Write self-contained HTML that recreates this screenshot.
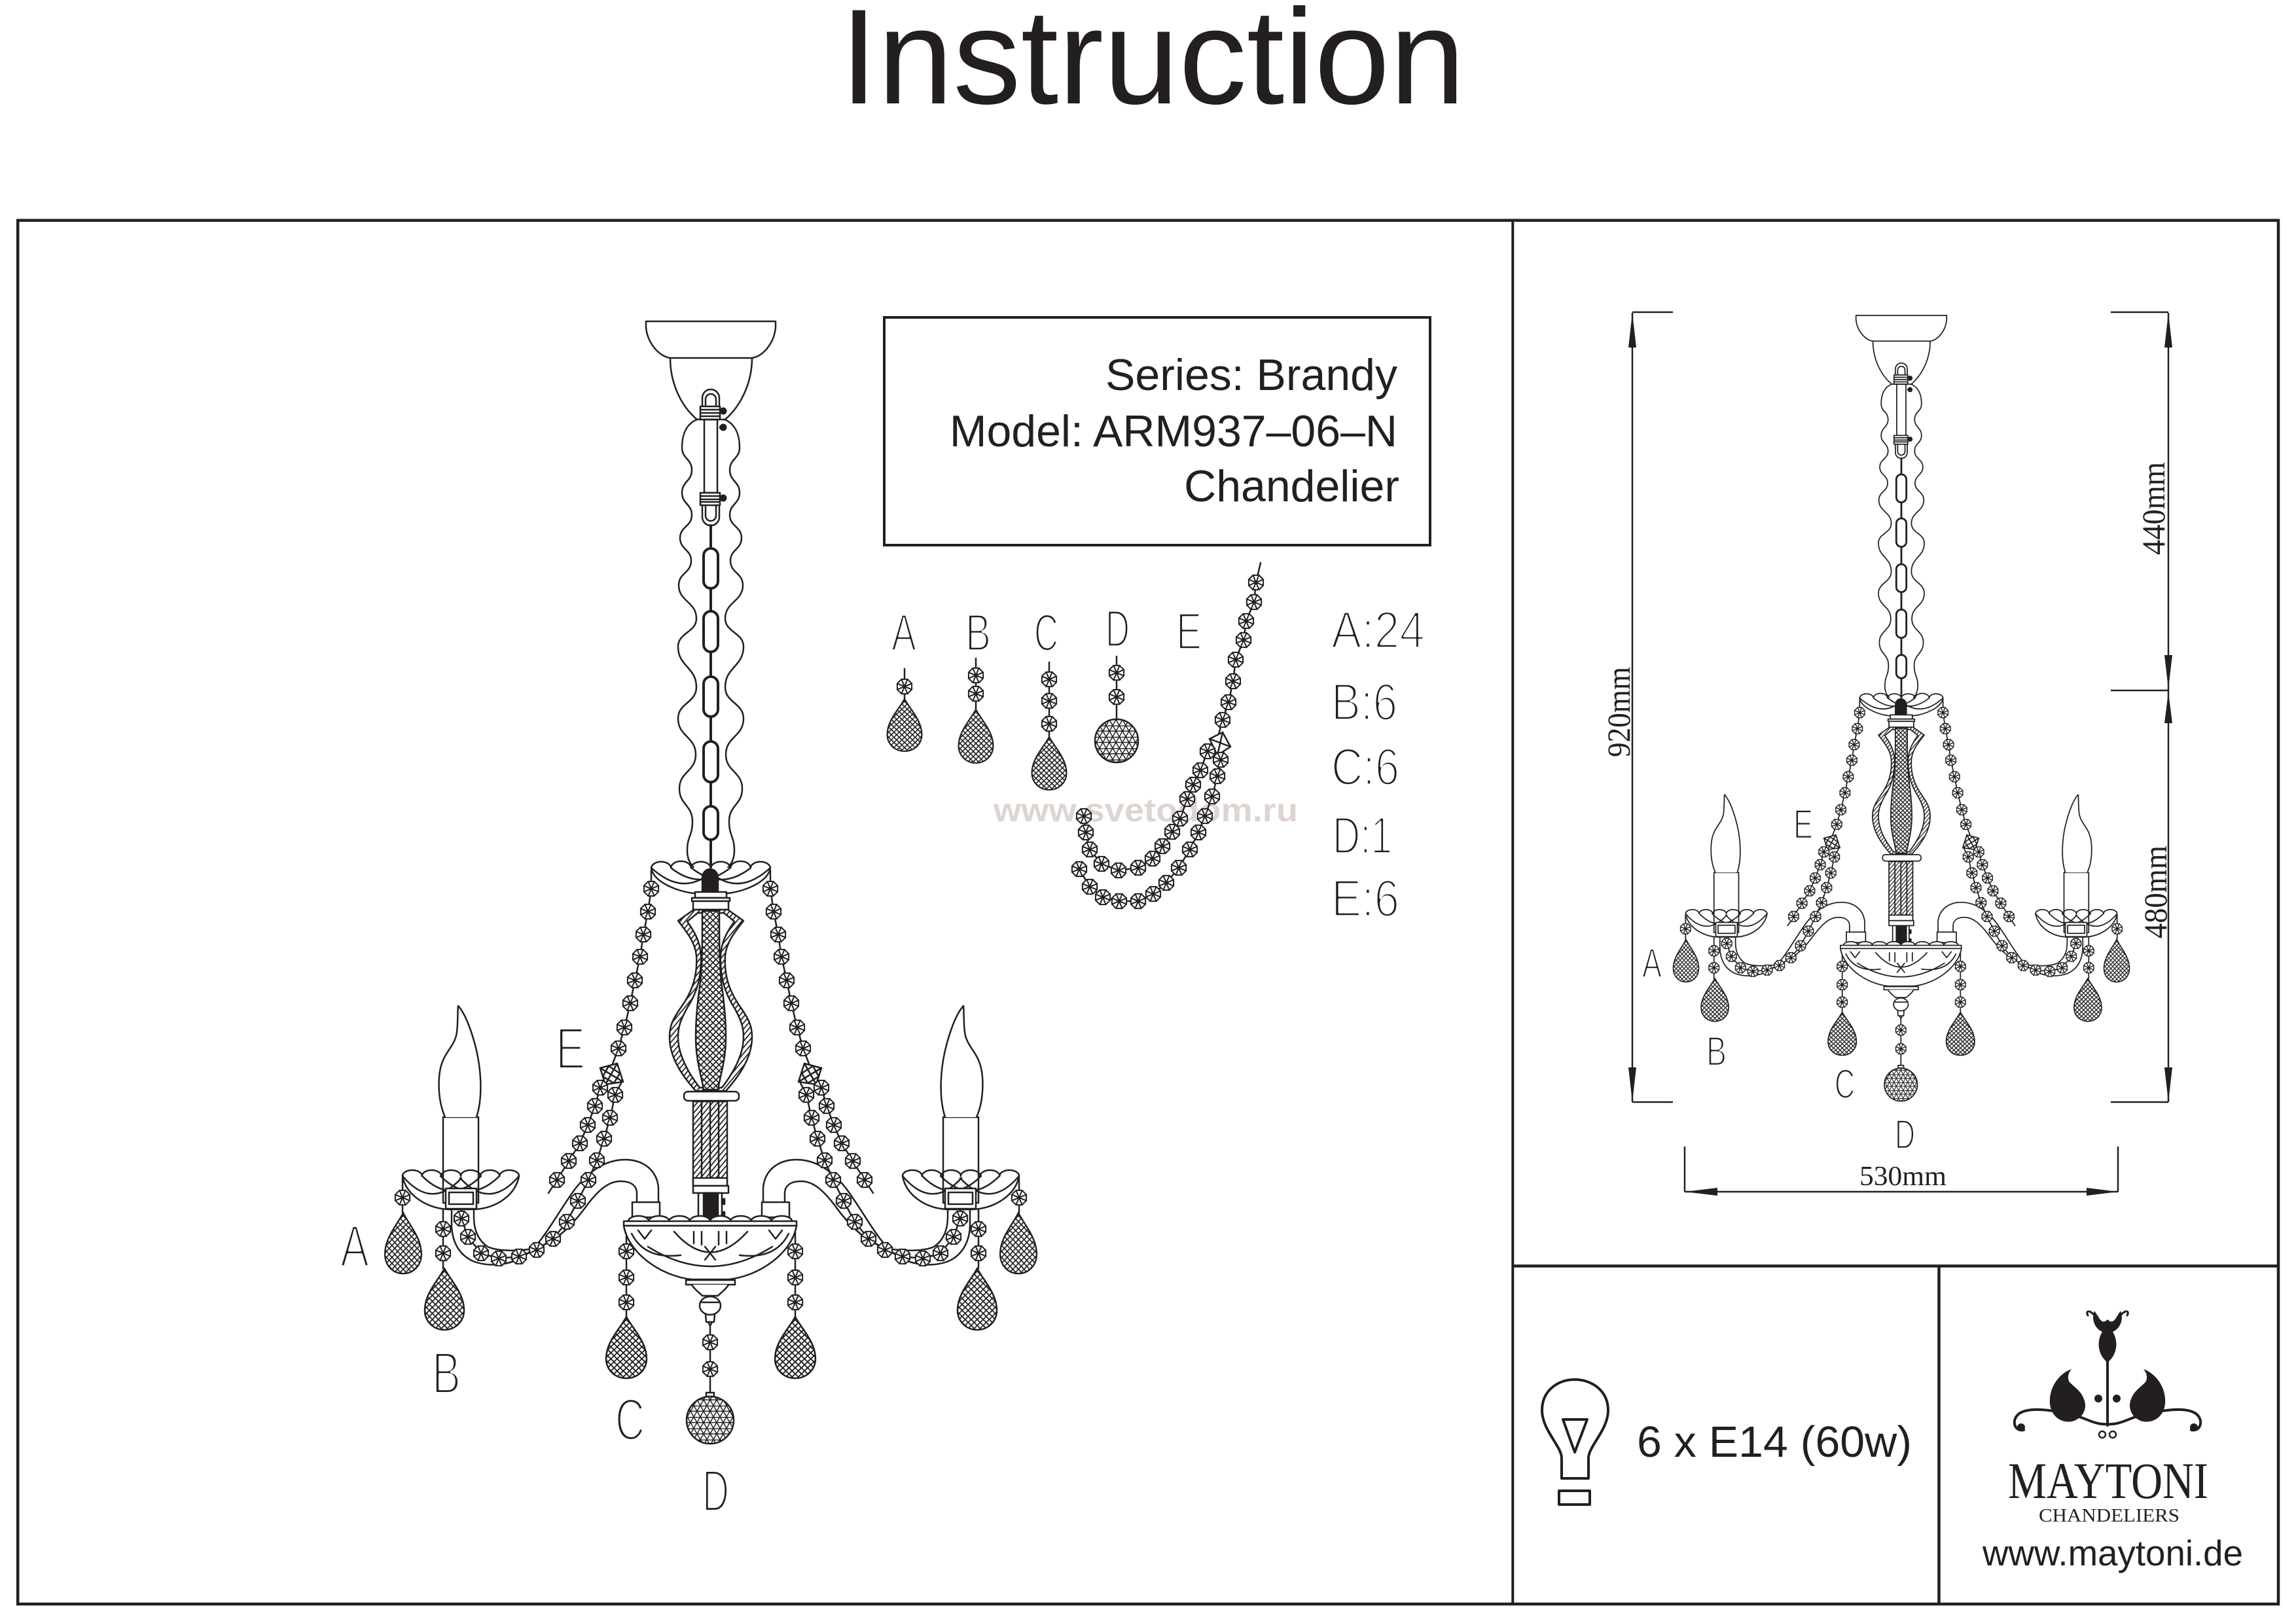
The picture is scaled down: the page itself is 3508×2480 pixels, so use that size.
<!DOCTYPE html>
<html><head><meta charset="utf-8"><style>html,body{margin:0;padding:0;background:#fff}svg{display:block}</style></head>
<body>
<svg xmlns="http://www.w3.org/2000/svg" width="3508" height="2480" viewBox="0 0 3508 2480">
<defs>
<pattern id="xh" width="6.5" height="6.5" patternUnits="userSpaceOnUse" patternTransform="rotate(45)"><rect width="6.5" height="6.5" fill="#fff"/><path d="M3.25,0V6.5M0,3.25H6.5" stroke="#231f20" stroke-width="1.8"/></pattern>
<pattern id="dg" width="6" height="6" patternUnits="userSpaceOnUse" patternTransform="rotate(40)"><rect width="6" height="6" fill="#fff"/><path d="M3,0V6" stroke="#231f20" stroke-width="1.8"/></pattern>
<pattern id="tr" width="10" height="17.32" patternUnits="userSpaceOnUse"><rect width="10" height="17.32" fill="#fff"/><path d="M0,0L10,17.32M10,0L0,17.32M0,8.66H10M0,0.6H10" stroke="#231f20" stroke-width="1.5"/></pattern>
<g id="b" stroke="#231f20" stroke-width="2" fill="#fff"><polygon points="11.1,4.6 4.6,11.1 -4.6,11.1 -11.1,4.6 -11.1,-4.6 -4.6,-11.1 4.6,-11.1 11.1,-4.6"/><path d="M11.1,4.6L-11.1,-4.6M4.6,11.1L-4.6,-11.1M-4.6,11.1L4.6,-11.1M-11.1,4.6L11.1,-4.6" fill="none"/></g>
<path id="t" d="M0,0 C9,18 30,38 30,64 C30,81 17,94 0,94 C-17,94 -30,81 -30,64 C-30,38 -9,18 0,0Z" fill="url(#xh)" stroke="#231f20" stroke-width="2.5"/>
<path id="wv" fill="none" d="M1065,641 C1048,648 1042,665 1042,684 C1042,701 1057,701 1057,718 C1057,735.5 1042,735.5 1042,753 C1042,770 1057,770 1057,787 C1057,804.5 1039,804.5 1039,822 C1039,839.5 1056,839.5 1056,857 C1056,875.5 1037,875.5 1037,894 C1037,919.5 1064,919.5 1064,945 C1064,966.5 1036,966.5 1036,988 C1036,1019 1064,1019 1064,1050 C1064,1074 1036,1074 1036,1098 C1036,1125.5 1063,1125.5 1063,1153 C1063,1179 1038,1179 1038,1205 C1038,1230 1058,1230 1058,1255 C1058,1277.5 1050,1277.5 1050,1300 C1050,1313 1055,1320 1060,1326"/>
<g id="hf">
 <path d="M1006,1837 L1006,1815 C1004,1790 985,1772 955,1772 C925,1772 900,1790 880,1815 C850,1855 830,1900 800,1920 C775,1935 745,1935 725,1928 C700,1918 690,1895 690,1870 L690,1848"/>
 <path d="M973,1837 L973,1822 C972,1810 962,1805 948,1805 C930,1805 915,1818 898,1840 C875,1872 850,1898 815,1908 C790,1912 760,1912 745,1905 C730,1895 724,1878 724,1860 L724,1848"/>
 <rect x="966" y="1837" width="42" height="23" fill="#fff"/>
 <path d="M615,1797 C620,1825 650,1846 685,1848 L725,1848 C760,1846 788,1825 793,1797" fill="#fff"/>
 <path d="M615,1797 A14.8,9 0 0 1 644.7,1797 A14.8,9 0 0 1 674.3,1797 A14.8,9 0 0 1 704,1797 A14.8,9 0 0 1 733.7,1797 A14.8,9 0 0 1 763.3,1797 A14.8,9 0 0 1 793,1797"/>
 <path d="M615,1797 Q660,1850 705,1800 M793,1797 Q748,1850 703,1800 M645,1797 Q690,1842 735,1797 M763,1797 Q718,1842 673,1797"/>
 <rect x="677" y="1707" width="54" height="131"/>
 <path d="M680,1707 C668,1680 668,1640 677,1620 C683,1605 696,1595 698,1577 C700,1560 699,1545 700,1537 C712,1550 722,1580 728,1605 C736,1640 737,1680 728,1707" fill="#fff"/>
 <rect x="681" y="1816" width="47" height="31" fill="#fff"/>
 <rect x="686" y="1822" width="37" height="18"/>
 <path d="M615,1800 L615,1853 M677,1848 L677,1938 M957,1873 L957,2012"/>
 <use href="#b" x="615" y="1830"/>
 <use href="#t" transform="translate(616,1853) scale(0.93,0.99)"/>
 <use href="#b" x="677" y="1878"/><use href="#b" x="677" y="1915"/>
 <use href="#t" transform="translate(679,1938)"/>
 <use href="#b" x="957" y="1912"/><use href="#b" x="957" y="1952"/><use href="#b" x="957" y="1990"/>
 <use href="#t" transform="translate(957,2012) scale(1.03,1)"/>
 <polyline points="995,1330 995,1358 990,1393 983,1428 978,1462 970,1498 963,1533 954,1570 945,1602 935,1628"/>
 <polyline points="925,1655 917,1662 909,1690 898,1719 886,1747 869,1774 851,1803 838,1823"/>
 <polyline points="950,1653 940,1673 932,1708 923,1740 912,1773 899,1803 883,1835 866,1867 845,1893 820,1910 793,1920 762,1923 735,1915 715,1890 705,1862 705,1848"/>
 <use href="#b" x="995" y="1358"/><use href="#b" x="990" y="1393"/><use href="#b" x="983" y="1428"/><use href="#b" x="978" y="1462"/><use href="#b" x="970" y="1498"/><use href="#b" x="963" y="1533"/><use href="#b" x="954" y="1570"/><use href="#b" x="945" y="1602"/>
 <polygon points="917,1632 943,1625 952,1653 925,1657" fill="#fff"/>
 <path d="M917,1632 L952,1653 M943,1625 L925,1657 M930,1629 L947,1640 L938,1655 L921,1645 Z"/>
 <use href="#b" x="917" y="1662"/><use href="#b" x="909" y="1690"/><use href="#b" x="898" y="1719"/><use href="#b" x="886" y="1747"/><use href="#b" x="869" y="1774"/><use href="#b" x="851" y="1803"/>
 <use href="#b" x="940" y="1673"/><use href="#b" x="932" y="1708"/><use href="#b" x="923" y="1740"/><use href="#b" x="912" y="1773"/><use href="#b" x="899" y="1803"/><use href="#b" x="883" y="1835"/><use href="#b" x="866" y="1867"/><use href="#b" x="845" y="1893"/><use href="#b" x="820" y="1910"/><use href="#b" x="793" y="1920"/><use href="#b" x="762" y="1923"/><use href="#b" x="735" y="1915"/><use href="#b" x="715" y="1890"/><use href="#b" x="705" y="1862"/>
</g>
</defs>

<rect width="3508" height="2480" fill="#fff"/>

<!-- Title -->
<text x="1761" y="158" text-anchor="middle" font-family="Liberation Sans, sans-serif" font-size="207" fill="#231f20">Instruction</text>

<!-- Frame -->
<g fill="none" stroke="#231f20">
<rect x="27.2" y="336.7" width="3453.8" height="2114.3" stroke-width="4.5"/>
<line x1="2311.3" y1="336" x2="2311.3" y2="2452" stroke-width="4"/>
<line x1="2311" y1="1934.5" x2="3481" y2="1934.5" stroke-width="4.5"/>
<line x1="2962.5" y1="1934" x2="2962.5" y2="2451" stroke-width="4.5"/>
<rect x="1351" y="485" width="834" height="348" stroke-width="4"/>
</g>

<!-- Info text -->
<g font-family="Liberation Sans, sans-serif" font-size="68" fill="#231f20" text-anchor="end">
<text x="2135" y="596">Series: Brandy</text>
<text x="2135" y="682">Model: ARM937–06–N</text>
<text x="2138" y="766">Chandelier</text>
</g>

<!-- Watermark -->
<text x="1518" y="1255" font-family="Liberation Sans, sans-serif" font-weight="bold" font-size="50" fill="#ddd5d2" textLength="465" lengthAdjust="spacingAndGlyphs">www.svetodom.ru</text>

<!-- Legend letters -->
<g font-family="Liberation Sans, sans-serif" font-size="80" fill="#231f20" stroke="#fff" stroke-width="3.5" stroke-linejoin="round">
<text x="1362" y="994" textLength="38" lengthAdjust="spacingAndGlyphs">A</text>
<text x="1475" y="994" textLength="39" lengthAdjust="spacingAndGlyphs">B</text>
<text x="1580" y="994" textLength="37" lengthAdjust="spacingAndGlyphs">C</text>
<text x="1689" y="988" textLength="37" lengthAdjust="spacingAndGlyphs">D</text>
<text x="1797" y="992" textLength="39" lengthAdjust="spacingAndGlyphs">E</text>
<text x="2034" y="990" textLength="143" lengthAdjust="spacingAndGlyphs">A:24</text>
<text x="2034" y="1100" textLength="101" lengthAdjust="spacingAndGlyphs">B:6</text>
<text x="2034" y="1199" textLength="104" lengthAdjust="spacingAndGlyphs">C:6</text>
<text x="2036" y="1304" textLength="91" lengthAdjust="spacingAndGlyphs">D:1</text>
<text x="2034" y="1400" textLength="104" lengthAdjust="spacingAndGlyphs">E:6</text>
</g>

<!-- Legend parts -->
<g fill="none" stroke="#231f20" stroke-width="2.5" stroke-linecap="round">
<path d="M1382,1022 L1382,1068 M1491,1006 L1491,1084 M1603,1012 L1603,1126 M1706,1003 L1706,1099"/>
<use href="#b" x="1382" y="1049"/>
<use href="#t" transform="translate(1382,1068) scale(0.88,0.85)"/>
<use href="#b" x="1491" y="1032"/><use href="#b" x="1491" y="1060"/>
<use href="#t" transform="translate(1491,1084) scale(0.88,0.87)"/>
<use href="#b" x="1603" y="1038"/><use href="#b" x="1603" y="1071"/><use href="#b" x="1603" y="1106"/>
<use href="#t" transform="translate(1603,1126) scale(0.88,0.86)"/>
<use href="#b" x="1706" y="1028"/><use href="#b" x="1706" y="1065"/>
<circle cx="1706" cy="1132" r="33" fill="url(#tr)"/>
<polyline points="1926,860 1919,890 1916,920 1904,949 1900,978 1888,1008 1884,1041 1877,1073 1868,1100 1862,1122"/>
<polyline points="1852,1145 1845,1148 1834,1177 1823,1199 1814,1221 1803,1251 1791,1271 1776,1293 1761,1312 1739,1326 1709,1330 1683,1320 1665,1298 1659,1272 1656,1247"/>
<polyline points="1868,1150 1865,1161 1860,1186 1852,1217 1841,1247 1831,1272 1818,1298 1801,1326 1782,1349 1762,1366 1739,1377 1710,1377 1685,1371 1665,1355 1649,1328"/>
<use href="#b" x="1919" y="890"/><use href="#b" x="1916" y="920"/><use href="#b" x="1904" y="949"/><use href="#b" x="1900" y="978"/><use href="#b" x="1888" y="1008"/><use href="#b" x="1884" y="1041"/><use href="#b" x="1877" y="1073"/><use href="#b" x="1868" y="1100"/>
<polygon points="1848,1129 1868,1119 1880,1141 1860,1154" fill="#fff"/>
<path d="M1848,1129 L1880,1141 M1868,1119 L1860,1154"/>
<use href="#b" x="1845" y="1148"/><use href="#b" x="1834" y="1177"/><use href="#b" x="1823" y="1199"/><use href="#b" x="1814" y="1221"/><use href="#b" x="1803" y="1251"/><use href="#b" x="1791" y="1271"/><use href="#b" x="1776" y="1293"/><use href="#b" x="1761" y="1312"/><use href="#b" x="1739" y="1326"/><use href="#b" x="1709" y="1330"/><use href="#b" x="1683" y="1320"/><use href="#b" x="1665" y="1298"/><use href="#b" x="1659" y="1272"/><use href="#b" x="1656" y="1247"/>
<use href="#b" x="1865" y="1161"/><use href="#b" x="1860" y="1186"/><use href="#b" x="1852" y="1217"/><use href="#b" x="1841" y="1247"/><use href="#b" x="1831" y="1272"/><use href="#b" x="1818" y="1298"/><use href="#b" x="1801" y="1326"/><use href="#b" x="1782" y="1349"/><use href="#b" x="1762" y="1366"/><use href="#b" x="1739" y="1377"/><use href="#b" x="1710" y="1377"/><use href="#b" x="1685" y="1371"/><use href="#b" x="1665" y="1355"/><use href="#b" x="1649" y="1328"/>
</g>

<!-- Main chandelier -->
<g id="ch" fill="none" stroke="#231f20" stroke-width="2.5" stroke-linecap="round" stroke-linejoin="round">
 <path d="M987,491 L1185,491 L1185,500 C1183,525 1165,545 1149,547 L1024,547 C1008,545 989,525 987,500 Z"/>
 <path d="M1024,547 C1024,585 1040,620 1065,641 L1108,641 C1132,620 1149,585 1149,547"/>
 <use href="#wv"/>
 <use href="#wv" transform="matrix(-1 0 0 1 2172 0)"/>
 <path d="M1073,641 L1073,608 A13,13 0 0 1 1099,608 L1099,641 M1078,641 L1078,610 A8,8 0 0 1 1094,610 L1094,641"/>
 <rect x="1070" y="621" width="30" height="20" fill="#fff"/>
 <path d="M1070,626 H1100 M1070,631 H1100 M1070,636 H1100"/>
 <rect x="1076" y="641" width="20" height="112"/>
 <rect x="1070" y="753" width="30" height="19" fill="#fff"/>
 <path d="M1070,758 H1100 M1070,763 H1100 M1070,767 H1100"/>
 <path d="M1073,772 L1073,790 A13,13 0 0 0 1099,790 L1099,772 M1078,772 L1078,788 A8,8 0 0 0 1094,788 L1094,772"/>
 <g fill="#231f20" stroke="none"><circle cx="1105" cy="628" r="5.5"/><circle cx="1105" cy="653" r="5.5"/><circle cx="1105" cy="761" r="5.5"/><rect x="1099" y="626" width="6" height="4"/><rect x="1099" y="651" width="6" height="4"/><rect x="1099" y="759" width="6" height="4"/></g>
 <g stroke-width="4">
 <path d="M1086,803 L1086,838 M1086,899 L1086,934 M1086,996 L1086,1034 M1086,1095 L1086,1133 M1086,1195 L1086,1232 M1086,1283 L1086,1330"/>
 <rect x="1075" y="838" width="22" height="61" rx="11"/>
 <rect x="1075" y="934" width="22" height="62" rx="11"/>
 <rect x="1075" y="1034" width="22" height="61" rx="11"/>
 <rect x="1075" y="1133" width="22" height="62" rx="11"/>
 <rect x="1075" y="1232" width="22" height="51" rx="11"/>
 </g>
 <use href="#hf"/>
 <use href="#hf" transform="matrix(-1 0 0 1 2172 0)"/>
 <path d="M995,1326 C998,1348 1035,1362 1060,1365 L1112,1365 C1137,1362 1174,1348 1177,1326" fill="#fff"/>
 <path d="M995,1326 A15.2,10 0 0 1 1025.3,1326 A15.2,10 0 0 1 1055.7,1326 A15.2,10 0 0 1 1086,1326 A15.2,10 0 0 1 1116.3,1326 A15.2,10 0 0 1 1146.7,1326 A15.2,10 0 0 1 1177,1326"/>
 <path d="M995,1326 Q1045,1372 1090,1330 M1177,1326 Q1127,1372 1082,1330 M1025,1326 Q1070,1362 1116,1326 M1147,1326 Q1102,1362 1056,1326"/>
 <path d="M1073,1362 L1073,1342 C1073,1332 1080,1328 1085,1328 C1090,1328 1097,1332 1097,1342 L1097,1362 Z" fill="#231f20"/>
 <rect x="1062" y="1363" width="48" height="9" fill="#fff"/>
 <rect x="1057" y="1372" width="58" height="5" fill="#fff"/>
 <rect x="1059" y="1377" width="54" height="13" fill="#fff"/>
 <path d="M1060,1390 L1036,1407 C1050,1425 1062,1440 1064,1460 C1066,1490 1058,1515 1040,1540 C1026,1560 1023,1570 1023,1585 C1023,1620 1048,1650 1063,1667 L1109,1667 C1124,1650 1149,1620 1149,1585 C1149,1570 1146,1560 1132,1540 C1114,1515 1106,1490 1108,1460 C1110,1440 1122,1425 1136,1407 L1112,1390 Z" fill="url(#dg)"/>
 <path d="M1066,1395 L1050,1408 C1062,1425 1070,1440 1071,1460 C1072,1490 1066,1515 1050,1540 C1039,1560 1036,1570 1036,1585 C1036,1615 1056,1645 1069,1662 L1103,1662 C1116,1645 1136,1615 1136,1585 C1136,1570 1133,1560 1122,1540 C1106,1515 1100,1490 1101,1460 C1102,1440 1110,1425 1122,1408 L1106,1395 Z" fill="#fff"/>
 <path d="M1073,1392 L1099,1392 C1099,1440 1099,1470 1102,1500 C1106,1530 1109,1555 1109,1585 C1109,1620 1100,1645 1097,1665 L1075,1665 C1072,1645 1063,1620 1063,1585 C1063,1555 1066,1530 1070,1500 C1073,1470 1073,1440 1073,1392 Z" fill="url(#xh)"/>
 <rect x="1045" y="1668" width="84" height="14" rx="6" fill="#fff"/>
 <rect x="1059" y="1683" width="52" height="129" fill="url(#dg)"/>
 <path d="M1072,1683 V1800 M1085,1683 V1800 M1098,1683 V1800"/>
 <rect x="1059" y="1800" width="52" height="12" fill="#fff"/>
 <rect x="1059" y="1812" width="54" height="11" fill="#fff"/>
 <rect x="1067" y="1823" width="36" height="45" fill="#fff"/>
 <rect x="1075" y="1823" width="22" height="45" fill="#231f20"/>
 <rect x="1103" y="1832" width="4" height="8" fill="#231f20"/>
 <rect x="1103" y="1852" width="4" height="8" fill="#231f20"/>
 <path d="M960,1866 A15.6,8 0 0 1 991.25,1866 A15.6,8 0 0 1 1022.5,1866 A15.6,8 0 0 1 1053.75,1866 A15.6,8 0 0 1 1085,1866 A15.6,8 0 0 1 1116.25,1866 A15.6,8 0 0 1 1147.5,1866 A15.6,8 0 0 1 1178.75,1866 A15.6,8 0 0 1 1210,1866" fill="#fff"/>
 <rect x="953" y="1866" width="264" height="7" fill="#fff"/>
 <path d="M953,1873 C960,1915 1010,1950 1057,1955 L1113,1955 C1160,1950 1210,1915 1217,1873 Z" fill="#fff"/>
 <path d="M1030,1882 Q1085,1945 1142,1882 M965,1885 Q985,1925 1040,1918 M1205,1885 Q1185,1925 1130,1918 M990,1905 Q1085,1965 1180,1905 M1060,1882 V1900 M1072,1882 V1902 M1098,1882 V1902 M1110,1882 V1900 M1077,1905 L1093,1925 M1093,1905 L1077,1925 M975,1880 L985,1893 M995,1880 L985,1893 M1195,1880 L1185,1893 M1175,1880 L1185,1893"/>
 <rect x="1048" y="1956" width="75" height="7" fill="#fff"/>
 <path d="M1057,1963 C1062,1972 1070,1976 1073,1980 L1097,1980 C1100,1976 1108,1972 1113,1963" fill="#fff"/>
 <ellipse cx="1085" cy="1995" rx="16" ry="14" fill="#fff"/>
 <path d="M1071,1990 H1099"/>
 <path d="M1078,2008 L1079,2020 L1091,2020 L1092,2008 M1082,2020 L1085,2026 L1088,2020"/>
 <path d="M1085,2026 L1085,2134"/>
 <use href="#b" x="1085" y="2051"/><use href="#b" x="1085" y="2092"/>
 <rect x="1079" y="2128" width="12" height="6" fill="#fff"/>
 <circle cx="1085" cy="2170" r="36" fill="url(#tr)"/>
</g>

<!-- Main labels -->
<g font-family="Liberation Sans, sans-serif" font-size="90" fill="#231f20" stroke="#fff" stroke-width="4" stroke-linejoin="round">
<text x="520" y="1935" textLength="44" lengthAdjust="spacingAndGlyphs">A</text>
<text x="660" y="2129" textLength="44" lengthAdjust="spacingAndGlyphs">B</text>
<text x="940" y="2200" textLength="45" lengthAdjust="spacingAndGlyphs">C</text>
<text x="1073" y="2309" textLength="41" lengthAdjust="spacingAndGlyphs">D</text>
<text x="849" y="1633" textLength="45" lengthAdjust="spacingAndGlyphs">E</text>
</g>

<!-- Small chandelier -->
<use href="#ch" transform="translate(2905,482) scale(0.7) translate(-1086,-491)"/>
<g font-family="Liberation Sans, sans-serif" font-size="63" fill="#231f20" stroke="#fff" stroke-width="2.5" stroke-linejoin="round">
<text x="2509" y="1493" textLength="30" lengthAdjust="spacingAndGlyphs">A</text>
<text x="2607" y="1628" textLength="31" lengthAdjust="spacingAndGlyphs">B</text>
<text x="2803" y="1678" textLength="31" lengthAdjust="spacingAndGlyphs">C</text>
<text x="2895" y="1755" textLength="31" lengthAdjust="spacingAndGlyphs">D</text>
<text x="2740" y="1281" textLength="30" lengthAdjust="spacingAndGlyphs">E</text>
</g>

<!-- Dimensions -->
<g stroke="#231f20" stroke-width="2.5" fill="none">
<path d="M2494,478 V1684 M2494,477 H2556 M2494,1684 H2556"/>
<path d="M3313,478 V1684 M3225,477 H3313 M3225,1055 H3313 M3225,1684 H3313"/>
<path d="M2574,1821 H3236 M2574,1752 V1821 M3236,1752 V1821"/>
</g>
<g fill="#231f20">
<polygon points="2494,478 2488,531 2500,531"/>
<polygon points="2494,1684 2488,1631 2500,1631"/>
<polygon points="3313,478 3307,531 3319,531"/>
<polygon points="3313,1053 3307,1001 3319,1001"/>
<polygon points="3313,1057 3307,1105 3319,1105"/>
<polygon points="3313,1684 3307,1631 3319,1631"/>
<polygon points="2574,1821 2624,1815 2624,1827"/>
<polygon points="3236,1821 3188,1815 3188,1827"/>
</g>
<g font-family="Liberation Serif, serif" fill="#231f20">
<text transform="translate(2490,1088) rotate(-90)" x="-69" y="0" font-size="50" textLength="138" lengthAdjust="spacingAndGlyphs">920mm</text>
<text transform="translate(3307,777) rotate(-90)" x="-71" y="0" font-size="50" textLength="142" lengthAdjust="spacingAndGlyphs">440mm</text>
<text transform="translate(3310,1363) rotate(-90)" x="-71" y="0" font-size="50" textLength="142" lengthAdjust="spacingAndGlyphs">480mm</text>
<text x="2841" y="1811" font-size="42" textLength="133" lengthAdjust="spacingAndGlyphs">530mm</text>
</g>

<!-- Bulb cell -->
<g fill="none" stroke="#231f20" stroke-width="4" stroke-linejoin="round">
<path d="M2386,2259 L2386,2228 C2386,2210 2356,2185 2356,2155 C2356,2125 2380,2108 2406,2108 C2432,2108 2457,2125 2457,2155 C2457,2185 2427,2210 2427,2228 L2427,2259 Z"/>
<polygon points="2388,2169 2425,2169 2406,2219"/>
<rect x="2382" y="2278" width="47" height="21"/>
</g>
<text x="2501" y="2226" font-family="Liberation Sans, sans-serif" font-size="67" fill="#231f20" textLength="420" lengthAdjust="spacingAndGlyphs">6 x E14 (60w)</text>

<!-- Logo -->
<g fill="#231f20">
<path d="M3220,2082 C3205,2070 3203,2050 3212,2035 C3200,2030 3195,2015 3200,2003 L3206,2012 C3210,2020 3215,2022 3220,2016 C3225,2022 3230,2020 3234,2012 L3240,2003 C3245,2015 3240,2030 3228,2035 C3237,2050 3235,2070 3220,2082 Z"/>
<path d="M3165,2092 C3148,2098 3130,2118 3132,2145 C3134,2165 3150,2175 3166,2172 C3182,2168 3190,2152 3184,2138 C3180,2126 3170,2120 3162,2112 C3158,2106 3160,2098 3165,2092 Z"/>
<path d="M3275,2092 C3292,2098 3310,2118 3308,2145 C3306,2165 3290,2175 3274,2172 C3258,2168 3250,2152 3256,2138 C3260,2126 3270,2120 3278,2112 C3282,2106 3280,2098 3275,2092 Z"/>
<circle cx="3206" cy="2137" r="6"/><circle cx="3234" cy="2137" r="6"/>
<circle cx="3088" cy="2181" r="6"/><circle cx="3352" cy="2181" r="6"/>
</g>
<g fill="none" stroke="#231f20" stroke-width="4" stroke-linecap="round">
<path d="M3220,2080 V2178"/>
<path d="M3220,2176 C3200,2178 3185,2165 3160,2160 C3130,2154 3100,2150 3085,2160 C3072,2170 3078,2188 3092,2185"/>
<path d="M3220,2176 C3240,2178 3255,2165 3280,2160 C3310,2154 3340,2150 3355,2160 C3368,2170 3362,2188 3348,2185"/>
<circle cx="3212" cy="2192" r="5" stroke-width="2.5"/><circle cx="3228" cy="2192" r="5" stroke-width="2.5"/>
<path d="M3200,2010 C3192,2000 3186,2004 3190,2010 M3240,2010 C3248,2000 3254,2004 3250,2010" stroke-width="3"/>
</g>
<text x="3068" y="2289" font-family="Liberation Serif, serif" font-size="78" fill="#231f20" textLength="306" lengthAdjust="spacingAndGlyphs">MAYTONI</text>
<text x="3115" y="2325" font-family="Liberation Serif, serif" font-size="28" fill="#231f20" textLength="215" lengthAdjust="spacingAndGlyphs">CHANDELIERS</text>
<text x="3029" y="2392" font-family="Liberation Sans, sans-serif" font-size="55" fill="#231f20" textLength="398" lengthAdjust="spacingAndGlyphs">www.maytoni.de</text>
</svg>
</body></html>
